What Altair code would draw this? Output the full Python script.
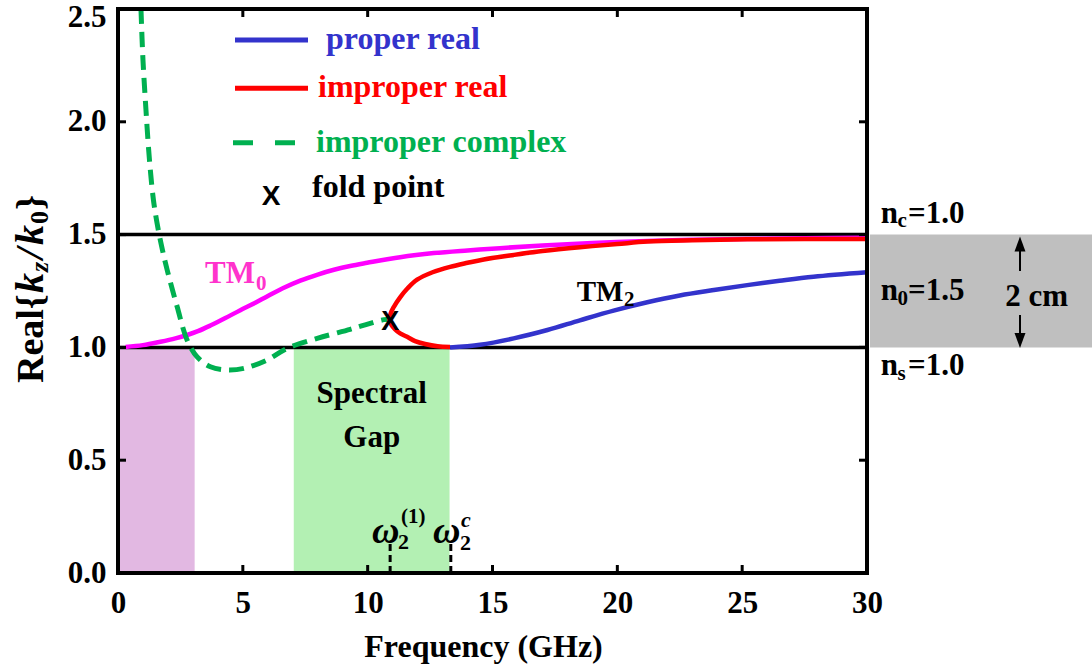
import altair as alt
import pandas as pd

# ---------------- data ----------------
xticks = [0, 5, 10, 15, 20, 25, 30]
yticks = [0.0, 0.5, 1.0, 1.5, 2.0, 2.5]

tm0_x = [0.3, 1.0, 1.7, 2.3, 2.77, 3.2, 3.7, 4.3, 4.9, 5.5, 5.97, 6.6, 7.3, 8.0, 8.65,
         9.3, 9.98, 11.3, 12.65, 14.0, 15.3, 17.0, 19.0, 21.2, 23.0, 25.0, 27.5, 30.0]
tm0_y = [1.002, 1.01, 1.025, 1.04, 1.055, 1.072, 1.097, 1.13, 1.165, 1.198, 1.226, 1.262,
         1.296, 1.323, 1.344, 1.361, 1.375, 1.40, 1.418, 1.43, 1.44, 1.452, 1.463, 1.472,
         1.477, 1.481, 1.484, 1.486]

red_x = [13.3, 12.8, 12.3, 11.9, 11.58, 11.3, 11.1, 10.95, 10.88, 10.92, 11.05, 11.3, 11.6,
         11.98, 12.6, 13.3, 14.0, 14.65, 15.85, 17.0, 18.5, 20.0, 21.2, 23.0, 25.2, 27.5, 30.0]
red_y = [1.002, 1.005, 1.015, 1.028, 1.047, 1.062, 1.08, 1.10, 1.12, 1.15, 1.18, 1.222, 1.262,
         1.30, 1.333, 1.357, 1.375, 1.39, 1.41, 1.427, 1.444, 1.458, 1.469, 1.475, 1.479, 1.48,
         1.48]

blue_x = [13.3, 14.5, 15.85, 17.2, 18.5, 19.85, 21.2, 22.5, 23.86, 25.2, 26.5, 27.86, 30.0]
blue_y = [1.0, 1.012, 1.04, 1.077, 1.12, 1.163, 1.2, 1.23, 1.254, 1.276, 1.295, 1.313, 1.333]

green_x = [0.92, 1.0, 1.12, 1.26, 1.42, 1.6, 1.78, 1.97, 2.37, 2.77, 3.17, 3.7, 4.37, 5.04,
           5.97, 6.78, 7.98, 9.3, 9.9, 10.65, 10.9]
green_y = [2.5, 2.275, 2.053, 1.831, 1.653, 1.529, 1.432, 1.343, 1.18, 1.032, 0.958, 0.914,
           0.9, 0.907, 0.944, 0.996, 1.04, 1.08, 1.1, 1.123, 1.125]

fold_x = [10.9]
fold_y = [1.12]

layer_n = [1.0, 1.5]                 # n_s / n_c reference lines
band_x0 = [0.0, 7.04]                # shaded regions (TM0-only band, spectral gap)
band_x1 = [3.07, 13.28]
band_top = [1.0, 1.0]
omega_x = [10.9, 13.33]              # omega_2^(1), omega_2^c

# ---------------- styling ----------------
SERIF = "Liberation Serif"
SANS = "Liberation Sans"
BLUE = "#3333CC"
RED = "#FF0000"
GREEN = "#00B050"
MAGENTA = "#FF00FF"
TM0_TXT = "#FF33CC"
X0, Y0 = 118, 9
W, H = 749, 564

xscale = alt.Scale(domain=[0, 30], nice=False, zero=False)
yscale = alt.Scale(domain=[0, 2.5], nice=False, zero=False)
xaxis = alt.Axis(values=xticks, title=None, tickSize=0, domain=False, grid=False,
                 labelFont=SERIF, labelFontSize=31, labelFontWeight="bold",
                 labelColor="black", labelPadding=15, labelFlush=False)
yaxis = alt.Axis(values=yticks, format=".1f", title=None, tickSize=0, domain=False,
                 grid=False, labelFont=SERIF, labelFontSize=31, labelFontWeight="bold",
                 labelColor="black", labelPadding=12,
                 labelOffset={"condition": {"test": "datum.value >= 2.5", "value": 8},
                              "value": 0})


def X(f):
    return alt.X(f, type="quantitative", scale=xscale, axis=xaxis)


def Y(f):
    return alt.Y(f, type="quantitative", scale=yscale, axis=yaxis)


ONE = alt.Data(values=[{"a": 1}])


def label(s, px, py, size=31, color="black", align="left", baseline="alphabetic",
          font=SERIF, style="normal", angle=0, weight="bold"):
    kw = dict(text=s, font=font, fontSize=size, fontWeight=weight, fontStyle=style,
              color=color, align=align, baseline=baseline)
    if angle:
        kw["angle"] = angle
    return alt.Chart(ONE).mark_text(**kw).encode(x=alt.value(px - X0), y=alt.value(py - Y0))


def curve(xs, ys, color, dash=None, width=4.5):
    df = pd.DataFrame({"x": xs, "y": ys, "i": list(range(len(xs)))})
    kw = dict(color=color, strokeWidth=width, strokeCap="butt", strokeJoin="round",
              interpolate="catmull-rom")
    if dash:
        kw["strokeDash"] = dash
    return alt.Chart(df).mark_line(**kw).encode(x=X("x"), y=Y("y"), order="i:Q")


def hrule(px0, px1, py, color="black", width=3.5, dash=None):
    kw = dict(color=color, strokeWidth=width)
    if dash:
        kw["strokeDash"] = dash
    return alt.Chart(ONE).mark_rule(**kw).encode(
        x=alt.value(px0), x2=alt.value(px1), y=alt.value(py))


def vrule(px, py0, py1, color="black", width=3.5):
    return alt.Chart(ONE).mark_rule(color=color, strokeWidth=width).encode(
        x=alt.value(px), y=alt.value(py0), y2=alt.value(py1))


layers = []

# shaded bands
bands = pd.DataFrame({"x0": band_x0, "x1": band_x1, "top": band_top,
                      "c": ["#E2B8E2", "#B3F0B3"]})
layers.append(alt.Chart(bands).mark_rect().encode(
    x=X("x0"), x2="x1", y=Y("top"), y2=alt.datum(0),
    color=alt.Color("c:N", scale=None)))

# gray slab outside plot
slab = pd.DataFrame({"top": [max(layer_n)], "bot": [min(layer_n)]})
layers.append(alt.Chart(slab).mark_rect(color="#BFBFBF").encode(
    x=alt.value(870 - X0), x2=alt.value(1092 - X0), y=Y("top"), y2="bot"))

# n lines
layers.append(alt.Chart(pd.DataFrame({"n": layer_n})).mark_rule(
    color="black", strokeWidth=3.5).encode(y=Y("n"), x=alt.value(0), x2=alt.value(W)))

# omega dashed markers
layers.append(alt.Chart(pd.DataFrame({"x": omega_x})).mark_rule(
    color="black", strokeWidth=3, strokeDash=[7, 4]).encode(
    x=X("x"), y=alt.value(H), y2=alt.value(542 - Y0)))

# curves
layers.append(curve(tm0_x, tm0_y, MAGENTA))
layers.append(curve(green_x, green_y, GREEN, dash=[15, 8], width=5))
layers.append(curve(red_x, red_y, RED))
layers.append(curve(blue_x, blue_y, BLUE))

# frame and inward ticks
layers += [hrule(-2, W + 2, 0, width=4), hrule(-2, W + 2, H, width=4),
           vrule(0, -2, H + 2, width=4), vrule(W, -2, H + 2, width=4)]
xt = pd.DataFrame({"x": xticks})
yt = pd.DataFrame({"y": yticks})
layers.append(alt.Chart(xt).mark_rule(color="black", strokeWidth=3).encode(
    x=X("x"), y=alt.value(H), y2=alt.value(H - 8)))
layers.append(alt.Chart(xt).mark_rule(color="black", strokeWidth=3).encode(
    x=X("x"), y=alt.value(0), y2=alt.value(8)))
layers.append(alt.Chart(yt).mark_rule(color="black", strokeWidth=3).encode(
    y=Y("y"), x=alt.value(0), x2=alt.value(8)))
layers.append(alt.Chart(yt).mark_rule(color="black", strokeWidth=3).encode(
    y=Y("y"), x=alt.value(W), x2=alt.value(W - 8)))

# fold point
layers.append(alt.Chart(pd.DataFrame({"x": fold_x, "y": fold_y})).mark_text(
    text="X", font=SANS, fontSize=27, fontWeight="bold", color="black",
    align="center", baseline="middle", dy=2).encode(x=X("x"), y=Y("y")))

# legend
layers += [
    hrule(235 - X0, 308 - X0, 40 - Y0, color=BLUE, width=5),
    hrule(235 - X0, 308 - X0, 88.3 - Y0, color=RED, width=5),
    hrule(233 - X0, 298 - X0, 142.7 - Y0, color=GREEN, width=5, dash=[20, 22]),
    label("proper real", 326, 49, size=32, color=BLUE),
    label("improper real", 318, 96.7, size=32, color=RED),
    label("improper complex", 316, 151.7, size=32, color=GREEN),
    label("X", 271, 196.5, size=28, font=SANS, align="center", baseline="middle"),
    label("fold point", 312, 196.7, size=32),
]

# curve labels
layers += [
    label("TM", 205, 283, size=31, color=TM0_TXT),
    label("0", 256, 290, size=21, color=TM0_TXT),
    label("TM", 576.7, 301, size=29),
    label("2", 624, 306, size=21),
    label("Spectral", 371.7, 403, align="center"),
    label("Gap", 371.7, 447, align="center"),
    label("ω", 372, 543, size=38, style="italic"),
    label("2", 398, 549, size=22),
    label("(1)", 401, 523, size=21),
    label("ω", 433, 543, size=38, style="italic"),
    label("c", 461, 527, size=22, style="italic"),
    label("2", 460, 550, size=22),
]

# right side annotation
layers += [
    label("n", 880.7, 222.7), label("c", 897.5, 227, size=21), label("=1.0", 908, 222.7),
    label("n", 880.7, 300), label("0", 897.5, 305, size=21), label("=1.5", 908, 300),
    label("n", 880.7, 375), label("s", 897.5, 380, size=21), label("=1.0", 908, 375),
    label("2 cm", 1036.7, 306, align="center"),
    vrule(1020 - X0, 250 - Y0, 271 - Y0, width=2),
    vrule(1020 - X0, 315 - Y0, 334 - Y0, width=2),
]
layers.append(alt.Chart(ONE).mark_point(
    shape="M0,-1L0.73,1L-0.73,1Z", size=225, filled=True, color="black", opacity=1).encode(
    x=alt.value(1020 - X0), y=alt.value(244 - Y0)))
layers.append(alt.Chart(ONE).mark_point(
    shape="M0,1L0.73,-1L-0.73,-1Z", size=225, filled=True, color="black", opacity=1).encode(
    x=alt.value(1020 - X0), y=alt.value(340.5 - Y0)))

# axis titles
layers.append(label("Frequency (GHz)", 483.5, 657, size=32, align="center"))
layers += [
    label("Real{", 43, 383, size=38, angle=270),
    label("k", 43, 293, size=40, style="italic", angle=270),
    label("z", 48, 272, size=26, style="italic", angle=270),
    label("/", 43, 259, size=40, style="italic", angle=270),
    label("k", 43, 245, size=40, style="italic", angle=270),
    label("0", 48, 224, size=26, angle=270),
    label("}", 43, 210, size=38, angle=270),
]

chart = alt.layer(*layers).properties(
    width=W, height=H,
    padding={"left": X0, "top": Y0, "right": 1092 - X0 - W, "bottom": 668 - Y0 - H},
    autosize=alt.AutoSizeParams(type="none"),
    background="white",
).configure_view(stroke=None)

chart.save("out.html", embed_options={"renderer": "svg", "actions": False})
